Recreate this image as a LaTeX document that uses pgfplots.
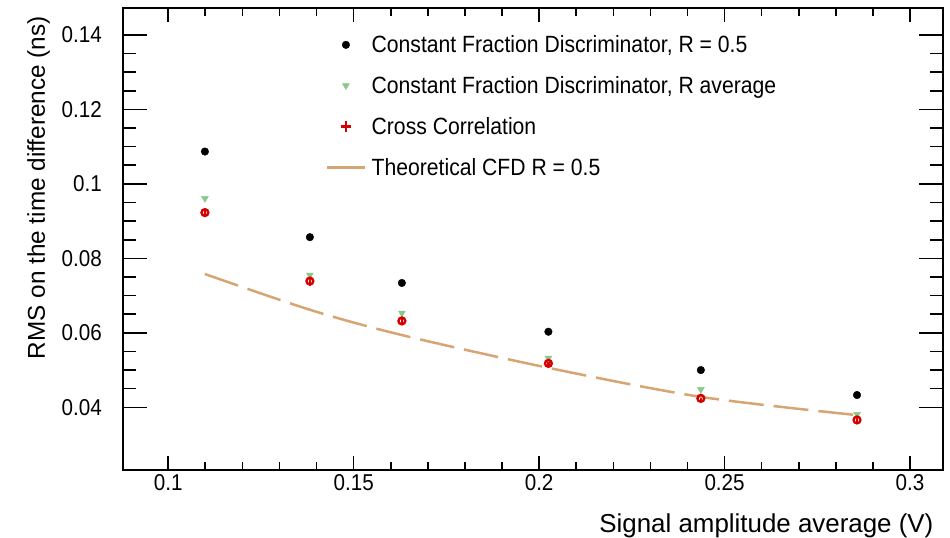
\documentclass[border=0pt]{standalone}
\usepackage{fontspec}
\setmainfont{Liberation Sans}
\newfontfamily\nf[FakeStretch=0.9]{Liberation Sans}
\usepackage{pgfplots}
\pgfplotsset{compat=1.18}
\definecolor{cfdgreen}{RGB}{140,200,140}
\definecolor{ccred}{RGB}{215,0,0}
\definecolor{theo}{RGB}{215,165,115}
\pgfplotsset{
  frame/.style={
    scale only axis, width=819.4bp, height=461.7bp,
    xmin=0.0879, xmax=0.3088, ymin=0.02316, ymax=0.14717,
    scaled ticks=false, tick align=inside, xtick pos=both, ytick pos=both,
    axis line style={line width=1.6bp},
    every tick/.style={black,line width=1.6bp},
    ticklabel style={font=\nf\fontsize{23}{23}\selectfont},
  }
}
\begin{document}
\begin{tikzpicture}
\path[use as bounding box] (-123.3bp,-68bp) rectangle (826.7bp,470bp);
% x ticks only
\begin{axis}[frame,
  xtick={0.1,0.15,0.2,0.25,0.3},
  xticklabels={0.1,0.15,0.2,0.25,0.3},
  ytick=\empty,
  minor x tick num=4,
  major tick length=14bp, minor tick length=8bp,
  xticklabel style={yshift=-1bp},
]
\end{axis}
\begin{axis}[frame,
  xtick=\empty,
  ytick={0.04,0.06,0.08,0.1,0.12,0.14},
  yticklabels={0.04,0.06,0.08,0.1,0.12,0.14},
  minor y tick num=3,
  major tick length=24bp, minor tick length=12.5bp,
  yticklabel style={xshift=-18bp},
  xlabel={Signal amplitude average (V)},
  ylabel={RMS on the time difference (ns)},
  xlabel style={at={(axis description cs:0.993,-0.1343)}, anchor=base east, font=\fontsize{26}{26}\selectfont},
  ylabel style={at={(axis description cs:-0.0956,0.99)}, anchor=base east, font=\fontsize{24.4}{24.4}\selectfont},
  legend image code/.code={\draw[mark repeat=2,mark phase=2,#1] plot coordinates {(0bp,0bp) (18.5bp,0bp) (37bp,0bp)};},
  legend style={at={(axis description cs:0.2437,0.950)}, anchor=north west, draw=none, fill=none,
    font=\nf\fontsize{23.6}{23.6}\selectfont, row sep=18.3bp,
    /tikz/every odd column/.append style={column sep=4bp}},
  legend cell align=left,
]
\addplot[only marks, mark=*, mark size=3.8bp, black] coordinates {
(0.1099,0.1087) (0.1382,0.0857) (0.1630,0.0734) (0.2025,0.0603) (0.2436,0.0500) (0.2857,0.0433)};
\addlegendentry{Constant Fraction Discriminator, R = 0.5}
\addplot[only marks, mark=triangle*, mark size=4bp, mark options={rotate=180}, cfdgreen] coordinates {
(0.1099,0.0961) (0.1382,0.0755) (0.1630,0.0653) (0.2025,0.0532) (0.2436,0.0448) (0.2857,0.0381)};
\addlegendentry{Constant Fraction Discriminator, R average}
\addplot[only marks, mark=o, mark size=3.4bp, ccred, line width=2.4bp,
  legend image code/.code={\draw[ccred,line width=2.8bp] (13.5bp,0bp)--(23.5bp,0bp) (18.5bp,-5.5bp)--(18.5bp,5.5bp);},
  error bars/.cd, y dir=both, y explicit, error mark=none,
  error bar style={ccred,line width=2.4bp}] coordinates {
(0.1099,0.0923) +- (0,0.0011)
(0.1382,0.0739) +- (0,0.0012)
(0.1630,0.0632) +- (0,0.0012)
(0.2025,0.0518) +- (0,0.0011)
(0.2436,0.0424) +- (0,0.0011)
(0.2857,0.0366) +- (0,0.0010)};
\addlegendentry{Cross Correlation}
\addplot[theo, line width=2.5bp, smooth, dash pattern=on 35bp off 10bp,
  legend image post style={solid}] coordinates {
(0.1099,0.0758) (0.1382,0.0662) (0.1630,0.0594) (0.2025,0.0506) (0.2436,0.0428) (0.2857,0.0379)};
\addlegendentry{Theoretical CFD R = 0.5}
\end{axis}
\end{tikzpicture}
\end{document}
